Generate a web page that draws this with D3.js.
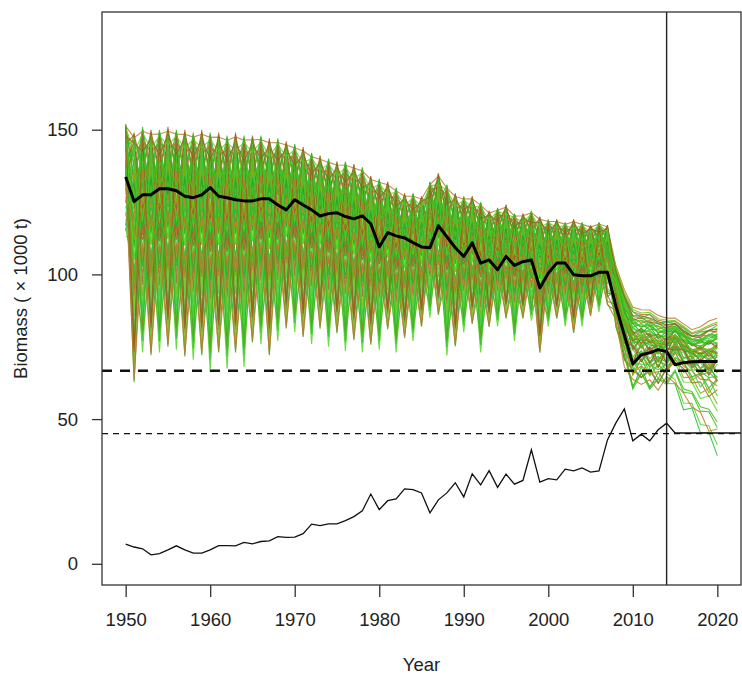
<!DOCTYPE html>
<html>
<head>
<meta charset="utf-8">
<script src="https://cdn.jsdelivr.net/npm/d3@7"></script>
<style>
body { margin: 0; background: #fff; }
text { font-family: "Liberation Sans", Arial, sans-serif; fill: #222; }
</style>
</head>
<body>
<script>
// years of the simulation, 1950-2020
var years = d3.range(1950, 2021);

// top of the projection envelope (x1000 t), one per year
var ensHigh = [152,149,151,150,150,151,150,150,149,150, 149,149,148,149,148,148,148,147,147,146,
               145,144,142,141,140,139,139,138,137,134, 133,132,130,128,128,127,132,135,131,128,
               127,127,125,122,123,124,121,121,122,120, 119,119,118,119,118,117,118,117,104,96,
               90,89,89,87,86,85,83,81,82,84, 85];
// bottom of the projection envelope
var ensLow = [113,61,73,70.5,73,73.5,74,70,70.5,70.5, 66.5,71.5,67.5,71.5,68,75,76,70.5,77,80,
              80,77,76,80,75,78.5,73.5,76,73,74.5, 74,80,73,77,77,81,85,85,72,74,
              80,82,73,81,82,84,77,84,84,72, 82,84,82,79,82,85,87,89,80,66,
              58,60,58,58,60,59,53,50,45,40, 37];
// median trajectory (thick black)
var median = [133.7,125.2,127.5,127.5,129.6,129.6,128.9,127,126.5,127.5, 130,127,126.5,125.8,125.4,125.4,126.1,126.1,124,122.3,
              125.8,124,122.3,120.2,121,121.3,120,119.2,120.2,117.5, 109.5,114.4,113.3,112.6,111,109.5,109.2,116.8,113,109.2,
              106.2,110.9,103.9,105,101.6,106.2,103.1,104.4,105,95.3, 100.4,103.9,103.9,99.9,99.5,99.5,100.7,100.7,89,79,
              69,72.2,72.9,74,73.3,68.8,69.5,69.8,69.9,69.9, 69.9];

// observed catch 1950-2014 and the fixed future catch
var catchYears = d3.range(1950, 2015).concat([2015, 2023]);
var catchVals = [6.8,5.8,5.2,3.1,3.5,4.8,6.2,4.8,3.7,3.7, 4.8,6.3,6.3,6.2,7.4,6.9,7.7,7.9,9.4,9.1,
                 9.2,10.4,13.7,13.2,13.8,13.8,14.9,16.3,18.3,24.1, 18.7,21.8,22.4,25.9,25.6,24.5,17.6,22.1,24.5,28,
                 23.1,31.1,27.3,32.2,26.4,31,27.5,28.8,39.4,28.2, 29.4,29,32.7,32.1,33.1,31.7,32.1,42.8,48.7,53.5,
                 42.5,44.8,42.5,46.3,48.6, 45.2,45.2];

// reference levels
var refHigh = 66.7;   // thick dashed
var refLow = 45;      // thin dashed
var lastDataYear = 2014;

var xTicks = [1950, 1960, 1970, 1980, 1990, 2000, 2010, 2020];
var yTicks = [0, 50, 100, 150];

// where each drawn trajectory sits inside the envelope:
// [even years, odd years, 2008-2014, 2015 on]
var memberMix = [
  [1.00,0.55,0.55,0.78],[0.55,1.00,0.62,0.82],[0.00,0.60,0.30,0.10],[0.62,0.02,0.20,0.55],
  [0.97,0.80,0.80,0.90],[0.80,0.97,0.72,0.86],[0.10,0.90,0.45,0.62],[0.92,0.12,0.50,0.70],
  [0.90,0.70,0.68,0.84],[0.72,0.93,0.75,0.88],[0.30,0.95,0.40,0.66],[0.95,0.28,0.58,0.76],
  [0.88,0.88,0.85,0.93],[0.85,0.60,0.65,0.80],[0.60,0.85,0.70,0.85],[0.45,0.98,0.52,0.72],
  [0.99,0.42,0.60,0.77],[0.20,0.75,0.35,0.35],[0.78,0.18,0.48,0.68],[0.94,0.90,0.90,0.96],
  [0.70,0.50,0.56,0.74],[0.50,0.72,0.64,0.79],[0.05,0.82,0.10,0.00],[0.84,0.06,0.25,0.50],
  [0.96,0.65,0.78,0.87],[0.66,0.96,0.66,0.81],[0.40,0.88,0.42,0.64],[0.86,0.38,0.54,0.73],
  [0.98,0.98,0.95,1.00],[0.76,0.76,0.70,0.83],[0.15,0.65,0.05,0.22],[0.67,0.14,0.15,0.45],
  [0.58,0.92,0.60,0.75],[0.93,0.55,0.73,0.86],[0.35,0.70,0.32,0.58],[0.72,0.33,0.46,0.69],
  [0.82,0.99,0.82,0.91],[0.99,0.82,0.88,0.94],[0.25,0.85,0.22,0.40],[0.87,0.22,0.38,0.63],
  [0.64,0.78,0.58,0.76],[0.78,0.64,0.62,0.79],[0.08,0.45,0.12,0.28],[0.48,0.03,0.08,0.15],
  [0.91,0.75,0.76,0.88],[0.74,0.91,0.80,0.89],[0.52,0.94,0.50,0.71],[0.94,0.50,0.68,0.80],
  [0.38,0.80,0.36,0.60],[0.81,0.36,0.44,0.67],[0.97,0.92,0.92,0.97],[0.89,0.96,0.86,0.92],
  [0.56,0.66,0.57,0.74],[0.68,0.58,0.61,0.77],[0.18,0.96,0.28,0.48],[0.97,0.16,0.40,0.65],
  [0.75,0.85,0.83,0.90],[0.86,0.73,0.76,0.85],[0.44,0.62,0.18,0.52],[0.63,0.46,0.26,0.57]
];
var memberColors = ["#33c21a", "#a8601e", "#4fd61c", "#2aa82a", "#b8742a", "#66cc11",
                    "#8a6a1c", "#22bb33", "#7fae12", "#3fcf3f", "#9c5a24", "#58c020",
                    "#46b81a", "#c0782c", "#2fc42f"];

var width = 742, height = 676;
var box = {left: 102, right: 741, top: 12, bottom: 585};

var svg = d3.select("body").append("svg")
    .attr("width", width)
    .attr("height", height);

var x = d3.scaleLinear().domain([1947.2, 2022.8]).range([box.left, box.right]);
var y = d3.scaleLinear().domain([-7.33, 190.67]).range([box.bottom, box.top]);

svg.append("clipPath").attr("id", "plotclip")
  .append("rect")
    .attr("x", box.left).attr("y", box.top)
    .attr("width", box.right - box.left).attr("height", box.bottom - box.top);

var plot = svg.append("g").attr("clip-path", "url(#plotclip)");

/* spaghetti of projections */
function memberValue(m, i) {
    var yr = years[i];
    var swing = yr % 2 === 0 ? m[0] : m[1];
    var f = swing;
    if (yr >= 2015) f = 0.85 * m[3] + 0.15 * swing;
    else if (yr >= 2008) f = 0.75 * m[2] + 0.25 * swing;
    return ensLow[i] + f * (ensHigh[i] - ensLow[i]);
}

var line = d3.line()
    .x(function(d) { return x(d[0]); })
    .y(function(d) { return y(d[1]); });

plot.append("g")
  .selectAll("path")
  .data(memberMix)
  .enter()
  .append("path")
    .attr("d", function(m) {
        return line(years.map(function(yr, i) { return [yr, memberValue(m, i)]; }));
    })
    .attr("fill", "none")
    .attr("stroke", function(m, i) { return memberColors[i % memberColors.length]; })
    .attr("stroke-width", 1.1)
    .attr("stroke-opacity", 0.85);

/* reference lines */
plot.append("line")
    .attr("x1", box.left).attr("x2", box.right)
    .attr("y1", y(refHigh)).attr("y2", y(refHigh))
    .attr("stroke", "#111").attr("stroke-width", 2.6)
    .attr("stroke-dasharray", "10,8");

plot.append("line")
    .attr("x1", box.left).attr("x2", box.right)
    .attr("y1", y(refLow)).attr("y2", y(refLow))
    .attr("stroke", "#111").attr("stroke-width", 1.2)
    .attr("stroke-dasharray", "6,5");

/* median biomass */
plot.append("path")
    .attr("d", line(years.map(function(yr, i) { return [yr, median[i]]; })))
    .attr("fill", "none")
    .attr("stroke", "#000")
    .attr("stroke-width", 3)
    .attr("stroke-linejoin", "round");

/* catch */
plot.append("path")
    .attr("d", line(catchYears.map(function(yr, i) { return [yr, catchVals[i]]; })))
    .attr("fill", "none")
    .attr("stroke", "#111")
    .attr("stroke-width", 1.3);

/* last data year */
plot.append("line")
    .attr("x1", x(lastDataYear)).attr("x2", x(lastDataYear))
    .attr("y1", box.top).attr("y2", box.bottom)
    .attr("stroke", "#222").attr("stroke-width", 1.4);

/* axes */
var xAxis = d3.axisBottom(x).tickValues(xTicks).tickFormat(d3.format("d"))
    .tickSize(12).tickPadding(16);
var yAxis = d3.axisLeft(y).tickValues(yTicks).tickSize(10).tickPadding(14);

var gx = svg.append("g")
    .attr("transform", "translate(0," + box.bottom + ")")
    .call(xAxis);
var gy = svg.append("g")
    .attr("transform", "translate(" + box.left + ",0)")
    .call(yAxis);

[gx, gy].forEach(function(g) {
    g.select(".domain").remove();
    g.selectAll("line").attr("stroke", "#333").attr("stroke-width", 1.3);
    g.selectAll("text").attr("font-size", 18.5).attr("fill", "#222")
        .attr("font-family", "'Liberation Sans', Arial, sans-serif");
});

svg.append("rect")
    .attr("x", box.left).attr("y", box.top)
    .attr("width", box.right - box.left).attr("height", box.bottom - box.top)
    .attr("fill", "none").attr("stroke", "#333").attr("stroke-width", 1.3);

/* axis titles */
svg.append("text")
    .attr("x", (box.left + box.right) / 2)
    .attr("y", 671)
    .attr("text-anchor", "middle")
    .attr("font-size", 18.5)
    .text("Year");

svg.append("text")
    .attr("transform", "translate(27," + ((box.top + box.bottom) / 2) + ") rotate(-90)")
    .attr("text-anchor", "middle")
    .attr("font-size", 18.5)
    .text("Biomass ( × 1000 t)");
</script>
</body>
</html>
